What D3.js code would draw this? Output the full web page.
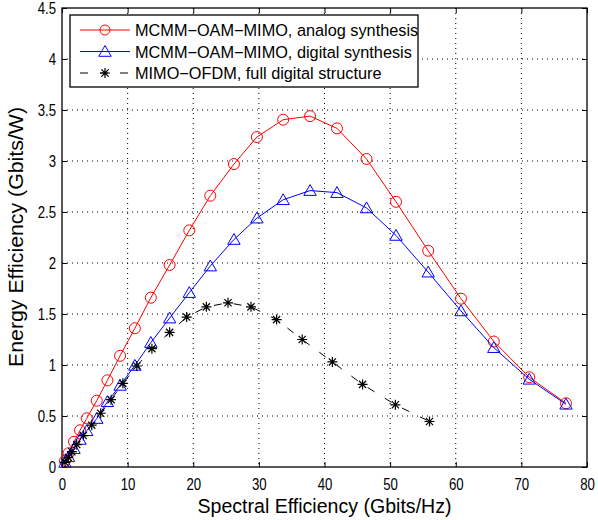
<!DOCTYPE html>
<html>
<head>
<meta charset="utf-8">
<script src="https://cdn.jsdelivr.net/npm/d3@7"></script>
<style>
  body { margin: 0; background: #fff; }
  svg { display: block; font-family: Arial, "Liberation Sans", Helvetica, sans-serif; }
</style>
</head>
<body>
<div id="chart"></div>
<script>
// spectral efficiency (Gbits/Hz) and energy efficiency (Gbits/W)
var analogX = [0.45, 1.0, 1.83, 2.75, 3.77, 5.3, 6.92, 8.85, 11.1, 13.54, 16.4, 19.4, 22.6, 26.2, 29.7, 33.7, 37.8, 41.9, 46.4, 50.9, 55.8, 60.8, 65.8, 71.2, 76.8]
var analogY = [0.06, 0.135, 0.247, 0.36, 0.477, 0.65, 0.85, 1.09, 1.36, 1.66, 1.98, 2.32, 2.66, 2.97, 3.235, 3.405, 3.44, 3.32, 3.02, 2.60, 2.12, 1.65, 1.23, 0.88, 0.625]
var digitalX = analogX
var digitalY = [0.045, 0.1, 0.18, 0.27, 0.355, 0.475, 0.64, 0.80, 0.996, 1.22, 1.46, 1.71, 1.97, 2.23, 2.44, 2.62, 2.71, 2.69, 2.54, 2.27, 1.91, 1.53, 1.17, 0.86, 0.615]
var ofdmX = [0.46, 0.96, 1.5, 2.24, 3.25, 4.53, 5.9, 7.48, 9.27, 11.4, 13.7, 16.4, 19.0, 22.0, 25.3, 28.8, 32.7, 36.6, 41.2, 45.8, 50.8, 56.0]
var ofdmY = [0.046, 0.095, 0.15, 0.22, 0.308, 0.41, 0.527, 0.66, 0.82, 0.99, 1.16, 1.32, 1.47, 1.57, 1.61, 1.57, 1.445, 1.25, 1.03, 0.81, 0.61, 0.446]

var xTicks = [0, 10, 20, 30, 40, 50, 60, 70, 80]
var yTicks = [0, 0.5, 1, 1.5, 2, 2.5, 3, 3.5, 4, 4.5]
var seriesNames = ['MCMM\u2212OAM\u2212MIMO, analog synthesis', 'MCMM\u2212OAM\u2212MIMO, digital synthesis', 'MIMO\u2212OFDM, full digital structure']

var W = 598, H = 520
  , m = { left: 62, top: 8, right: 11, bottom: 53 }
  , w = W - m.left - m.right
  , h = H - m.top - m.bottom

var svg = d3.select('#chart').append('svg').attr('width', W).attr('height', H)
var g = svg.append('g').attr('transform', 'translate(' + m.left + ',' + m.top + ')')

var x = d3.scaleLinear().domain([0, 80]).range([0, w])
  , y = d3.scaleLinear().domain([0, 4.5]).range([h, 0])

// dotted grid
g.selectAll('.gx').data(xTicks.slice(1, -1)).enter().append('line')
  .attr('x1', x).attr('x2', x).attr('y1', 0).attr('y2', h)
  .attr('stroke', '#000').attr('stroke-width', 1).attr('stroke-dasharray', '1,4')
g.selectAll('.gy').data(yTicks.slice(1, -1)).enter().append('line')
  .attr('y1', y).attr('y2', y).attr('x1', 0).attr('x2', w)
  .attr('stroke', '#000').attr('stroke-width', 1).attr('stroke-dasharray', '1,4')

// axes, ticks pointing inward
var fmt = d3.format('~g')
var ax = g.append('g').attr('transform', 'translate(0,' + h + ')')
  .call(d3.axisBottom(x).tickValues(xTicks).tickFormat(fmt).tickSize(-5).tickPadding(11))
var ay = g.append('g')
  .call(d3.axisLeft(y).tickValues(yTicks).tickFormat(fmt).tickSize(-5).tickPadding(6))
g.append('g').call(d3.axisTop(x).tickValues(xTicks).tickFormat('').tickSize(-5))
g.append('g').attr('transform', 'translate(' + w + ',0)')
  .call(d3.axisRight(y).tickValues(yTicks).tickFormat('').tickSize(-5))

g.selectAll('.domain').remove()
g.selectAll('.tick line').attr('stroke', '#000')
g.selectAll('.tick text').attr('fill', '#000').style('font-size', '16.5px').each(function() {
  // the figure's tick digits are narrow
  var len = this.getComputedTextLength()
  d3.select(this).attr('textLength', len * 0.8).attr('lengthAdjust', 'spacingAndGlyphs')
})

g.append('rect').attr('width', w).attr('height', h)
  .attr('fill', 'none').attr('stroke', '#000').attr('stroke-width', 1.3)

// series
var line = d3.line().x(function(d) { return x(d[0]) }).y(function(d) { return y(d[1]) })
var analog = d3.zip(analogX, analogY)
  , digital = d3.zip(digitalX, digitalY)
  , ofdm = d3.zip(ofdmX, ofdmY)

var starPath = 'M-5,0H5M0,-5V5M-3.6,-3.6L3.6,3.6M-3.6,3.6L3.6,-3.6'
var triPath = 'M0,-6L6.2,4.8L-6.2,4.8Z'

g.append('path').datum(analog).attr('d', line)
  .attr('fill', 'none').attr('stroke', '#f00').attr('stroke-width', 1)
g.selectAll('.c').data(analog).enter().append('circle')
  .attr('cx', function(d) { return x(d[0]) }).attr('cy', function(d) { return y(d[1]) })
  .attr('r', 5.5).attr('fill', 'none').attr('stroke', '#f00').attr('stroke-width', 1)

g.append('path').datum(digital).attr('d', line)
  .attr('fill', 'none').attr('stroke', '#00f').attr('stroke-width', 1)
g.selectAll('.t').data(digital).enter().append('path')
  .attr('d', triPath)
  .attr('transform', function(d) { return 'translate(' + x(d[0]) + ',' + y(d[1]) + ')' })
  .attr('fill', 'none').attr('stroke', '#00f').attr('stroke-width', 1)

g.append('path').datum(ofdm).attr('d', line)
  .attr('fill', 'none').attr('stroke', '#000').attr('stroke-width', 1).attr('stroke-dasharray', '8,12')
g.selectAll('.s').data(ofdm).enter().append('path')
  .attr('d', starPath)
  .attr('transform', function(d) { return 'translate(' + x(d[0]) + ',' + y(d[1]) + ')' })
  .attr('fill', 'none').attr('stroke', '#000').attr('stroke-width', 1.2)

// axis titles
svg.append('text').attr('x', m.left + w / 2).attr('y', 512.5)
  .attr('text-anchor', 'middle').style('font-size', '20px')
  .attr('textLength', 254).attr('lengthAdjust', 'spacingAndGlyphs')
  .text('Spectral Efficiency (Gbits/Hz)')
svg.append('text').attr('transform', 'translate(23,237) rotate(-90)')
  .attr('text-anchor', 'middle').style('font-size', '20px')
  .attr('textLength', 260).attr('lengthAdjust', 'spacingAndGlyphs')
  .text('Energy Efficiency (Gbits/W)')

// legend
var lg = svg.append('g').attr('transform', 'translate(70,15)')
lg.append('rect').attr('width', 348).attr('height', 72)
  .attr('fill', '#fff').attr('stroke', '#000').attr('stroke-width', 1.3)
var rows = [15, 36.5, 58]
  , colors = ['#f00', '#00f', '#000']

seriesNames.forEach(function(name, i) {
  var r = lg.append('g').attr('transform', 'translate(0,' + rows[i] + ')')
  var ln = r.append('line').attr('x1', 10).attr('x2', 60).attr('y1', 0).attr('y2', 0)
    .attr('stroke', colors[i]).attr('stroke-width', 1)
  if (i == 2) ln.attr('stroke-dasharray', '8,12')
  if (i == 0) r.append('circle').attr('cx', 35).attr('r', 5).attr('fill', 'none').attr('stroke', '#f00')
  if (i == 1) r.append('path').attr('d', triPath).attr('transform', 'translate(35,0)').attr('fill', 'none').attr('stroke', '#00f')
  if (i == 2) r.append('path').attr('d', starPath).attr('transform', 'translate(35,0)').attr('fill', 'none').attr('stroke', '#000').attr('stroke-width', 1.2)
  r.append('text').attr('x', 65).attr('y', 6).style('font-size', '16.3px').text(name)
})
</script>
</body>
</html>
